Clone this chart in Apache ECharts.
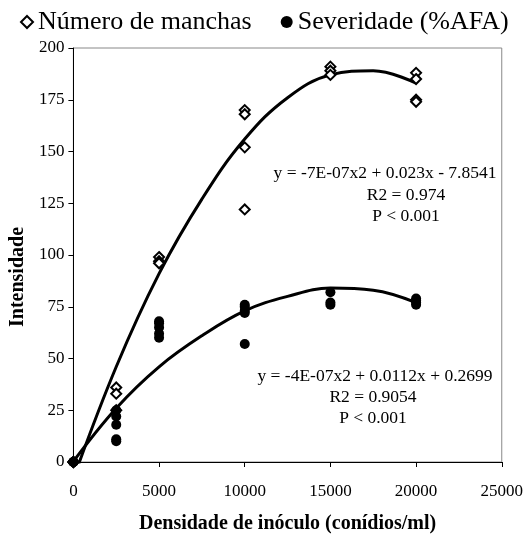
<!DOCTYPE html>
<html>
<head>
<meta charset="utf-8">
<script src="https://cdn.jsdelivr.net/npm/echarts@6/dist/echarts.min.js"></script>
<style>
html,body{margin:0;padding:0;background:#fff;}
#chart{width:526px;height:548px;}
</style>
</head>
<body>
<div id="chart"></div>
<script>
// ---- data ----
const seriesNames = ['Número de manchas', 'Severidade (%AFA)'];
const manchasX = [0, 0, 0, 2500, 2500, 2500, 5000, 5000, 5000, 10000, 10000, 10000, 10000, 15000, 15000, 15000, 20000, 20000, 20000, 20000];
const manchasY = [0, 0, 0, 36, 33, 25, 99, 97, 96, 170, 168, 152, 122, 191, 189, 187, 188, 185, 175, 174];
const severX = [0, 0, 0, 2500, 2500, 2500, 2500, 2500, 5000, 5000, 5000, 5000, 5000, 10000, 10000, 10000, 10000, 10000, 15000, 15000, 15000, 20000, 20000, 20000, 20000];
const severY = [0, 0, 0, 25, 22, 18, 11, 10, 68, 67, 65, 62, 60, 76, 75, 73, 72, 57, 82, 77, 76, 79, 78, 77, 76];
// trend curves
const trendX = [0, 2500, 5000, 7500, 10000, 12500, 15000, 17500, 20000];
const trendManchas = [-8, 46, 91, 127, 156, 176, 187, 189, 183];
const trendSever = [0.3, 26, 46, 61, 73, 80, 84, 83, 77];
const eqManchas = ['y = -7E-07x2 + 0.023x - 7.8541', 'R2 = 0.974', 'P < 0.001'];
const eqSever = ['y = -4E-07x2 + 0.0112x + 0.2699', 'R2 = 0.9054', 'P < 0.001'];
const yTicks = [0, 25, 50, 75, 100, 125, 150, 175, 200];
const xTicks = [0, 5000, 10000, 15000, 20000, 25000];

const zip = (xs, ys) => xs.map((x, i) => [x, ys[i]]);
const FONT = '"Liberation Serif", "Times New Roman", serif';

const chart = echarts.init(document.getElementById('chart'), null, {renderer: 'canvas'});
const option = {
  animation: false,
  backgroundColor: '#fff',
  textStyle: {fontFamily: FONT, color: '#000'},
  legend: {
    top: 4, left: 15,
    itemGap: 29,
    itemWidth: 12, itemHeight: 12,
    textStyle: {fontFamily: FONT, fontSize: 26, color: '#000'},
    data: [
      {name: seriesNames[0], icon: 'diamond', itemStyle: {color: '#fff', borderColor: '#000', borderWidth: 2, opacity: 1}},
      {name: seriesNames[1], icon: 'circle', itemStyle: {color: '#000', opacity: 1}}
    ]
  },
  grid: {left: 59, right: 24, top: 48, bottom: 86, show: true, borderColor: '#888', borderWidth: 1},
  xAxis: {
    type: 'value', min: xTicks[0], max: xTicks[xTicks.length - 1], interval: 5000,
    name: 'Densidade de inóculo (conídios/ml)', nameLocation: 'middle', nameGap: 52,
    nameTextStyle: {fontFamily: FONT, fontSize: 20, fontWeight: 'bold', color: '#000'},
    axisLine: {show: true, lineStyle: {color: '#000', width: 1}},
    axisTick: {show: true, inside: false, length: 5, lineStyle: {color: '#000'}},
    axisLabel: {fontFamily: FONT, fontSize: 17, color: '#000', margin: 21, formatter: v => String(v)},
    splitLine: {show: false}
  },
  yAxis: {
    type: 'value', min: yTicks[0], max: yTicks[yTicks.length - 1], interval: 25,
    name: 'Intensidade', nameLocation: 'middle', nameGap: 31,
    nameTextStyle: {fontFamily: FONT, fontSize: 20, fontWeight: 'bold', color: '#000', padding: [0, 44, 0, 0]},
    axisLine: {show: true, lineStyle: {color: '#000', width: 1}},
    axisTick: {show: true, inside: false, length: 5, lineStyle: {color: '#000'}},
    axisLabel: {fontFamily: FONT, fontSize: 17, color: '#000', margin: 9},
    splitLine: {show: false}
  },
  series: [
    {
      name: seriesNames[0], type: 'scatter', symbol: 'diamond', symbolSize: 10,
      itemStyle: {color: '#fff', borderColor: '#000', borderWidth: 2, opacity: 1},
      data: zip(manchasX, manchasY), z: 3
    },
    {
      name: seriesNames[1], type: 'scatter', symbol: 'circle', symbolSize: 10,
      itemStyle: {color: '#000', opacity: 1},
      data: zip(severX, severY), z: 4
    },
    {
      name: 'trend1', type: 'line', smooth: 0.4, showSymbol: false, symbol: 'none', clip: true,
      lineStyle: {color: '#000', width: 3}, data: zip(trendX, trendManchas), z: 2, silent: true
    },
    {
      name: 'trend2', type: 'line', smooth: 0.4, showSymbol: false, symbol: 'none', clip: true,
      lineStyle: {color: '#000', width: 3}, data: zip(trendX, trendSever), z: 2, silent: true
    }
  ]
};
chart.setOption(option);

// annotation placement (layout, pixel centres of each text line)
const eq1Pos = [[385, 173], [406, 195], [406, 216]];
const eq2Pos = [[375, 376], [373, 397], [373, 418]];
function textBlock(lines, pos) {
  return lines.map((t, i) => ({
    type: 'text', x: pos[i][0], y: pos[i][1],
    style: {text: t, fontFamily: FONT, fontSize: 17.5, fill: '#000', textAlign: 'center', textVerticalAlign: 'middle'}
  }));
}
chart.setOption({graphic: textBlock(eqManchas, eq1Pos).concat(textBlock(eqSever, eq2Pos))});
</script>
</body>
</html>
